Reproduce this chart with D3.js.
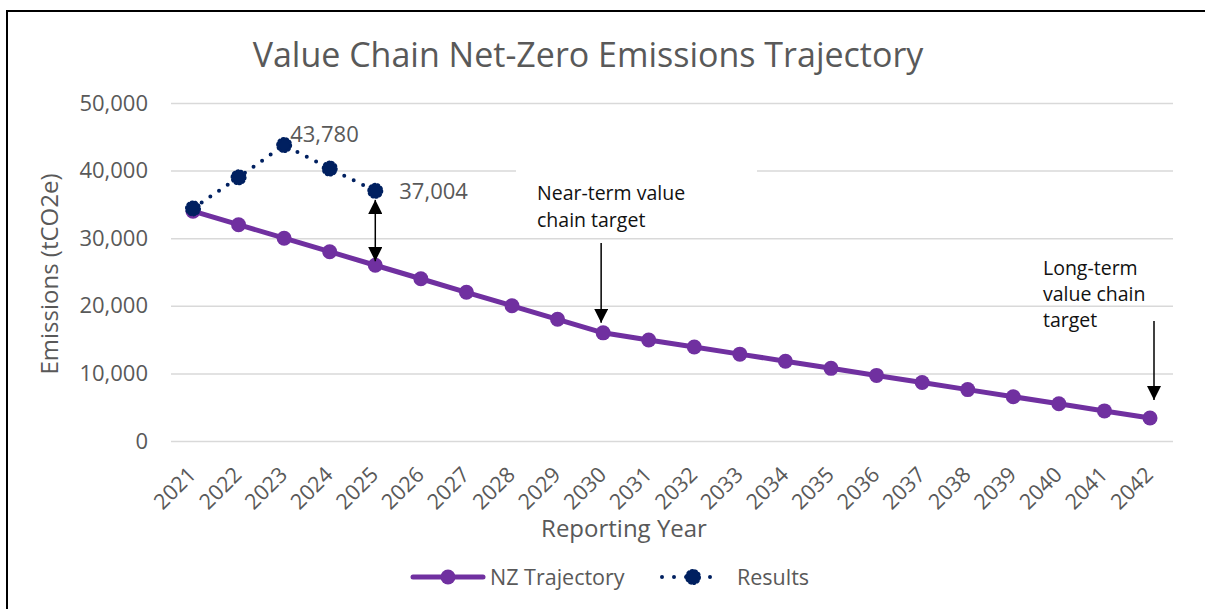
<!DOCTYPE html>
<html><head><meta charset="utf-8">
<script src="https://cdn.jsdelivr.net/npm/d3@7"></script>
<style>
body{margin:0;background:#fff;}
text{font-family:"Open Sans","Liberation Sans",sans-serif;}
</style></head>
<body><svg id="c" width="1205" height="609"></svg>
<script>
const years = ["2021","2022","2023","2024","2025","2026","2027","2028","2029","2030","2031","2032","2033","2034","2035","2036","2037","2038","2039","2040","2041","2042"];
const nzTrajectory = [34000,32000,30000,28000,26000,24000,22000,20000,18000,16000,14950,13900,12850,11800,10750,9700,8650,7600,6550,5500,4450,3400];
const resultYears = ["2021","2022","2023","2024","2025"];
const results = [34400,39000,43780,40300,37004];
const yTicks = [0,10000,20000,30000,40000,50000];

const svg = d3.select("#c");
const W=1205,H=609;
const purple="#7030A0", navy="#002060", grey="#595959";

svg.append("rect").attr("width",W).attr("height",H).attr("fill","#fff");
svg.append("rect").attr("x",7).attr("y",11).attr("width",1400).attr("height",800)
  .attr("fill","none").attr("stroke","#000").attr("stroke-width",2);

const plotL=171, plotR=1173;
const x = d3.scalePoint().domain(years).range([193,1150]);
const y = d3.scaleLinear().domain([0,50000]).range([441,103]);

// title
svg.append("text").attr("x",588).attr("y",67).attr("text-anchor","middle")
  .attr("font-size",34).attr("fill",grey).text("Value Chain Net-Zero Emissions Trajectory");

// y axis with gridlines
const ya = svg.append("g").attr("transform",`translate(${plotL},0)`)
  .call(d3.axisLeft(y).tickValues(yTicks).tickFormat(d3.format(",")).tickSize(-(plotR-plotL)).tickPadding(23));
ya.select(".domain").remove();
ya.selectAll(".tick line").attr("stroke","#d9d9d9").attr("stroke-width",1.5);
ya.selectAll(".tick text").attr("font-size",22).attr("fill",grey).attr("font-family",'"Open Sans",sans-serif');

// x axis labels
const xa = svg.append("g").attr("transform","translate(0,441)")
  .call(d3.axisBottom(x).tickSize(0).tickPadding(0));
xa.select(".domain").remove();
xa.selectAll(".tick text").attr("font-size",21.5).attr("fill",grey)
  .attr("font-family",'"Open Sans",sans-serif')
  .attr("text-anchor","end").attr("dy",0).attr("y",0)
  .attr("transform","translate(4,35) rotate(-45)");

// axis titles
svg.append("text").attr("transform","translate(58,274) rotate(-90)").attr("text-anchor","middle")
  .attr("font-size",24).attr("fill",grey).text("Emissions (tCO2e)");
svg.append("text").attr("x",624).attr("y",537).attr("text-anchor","middle")
  .attr("font-size",24).attr("fill",grey).text("Reporting Year");

// near-term annotation box (white background hides gridline)
svg.append("rect").attr("x",516).attr("y",164).attr("width",241).attr("height",70).attr("fill","#fff");
const ann = svg.append("g").attr("font-size",19.5).attr("fill","#111");
ann.append("text").attr("x",537).attr("y",200).text("Near-term value");
ann.append("text").attr("x",537).attr("y",227).text("chain target");
ann.append("text").attr("x",1043).attr("y",275).text("Long-term");
ann.append("text").attr("x",1043).attr("y",301).text("value chain");
ann.append("text").attr("x",1043).attr("y",327).text("target");

// arrowheads
const defs = svg.append("defs");
defs.append("marker").attr("id","ah").attr("viewBox","0 0 10 10").attr("refX",10).attr("refY",5)
  .attr("markerWidth",9.5).attr("markerHeight",9.5).attr("markerUnits","strokeWidth").attr("orient","auto-start-reverse")
  .append("path").attr("d","M0,0 L10,5 L0,10 Z").attr("fill","#000");

// NZ line
const line = d3.line().x((d,i)=>x(years[i])).y(d=>y(d));
svg.append("path").datum(nzTrajectory).attr("d",line).attr("fill","none")
  .attr("stroke",purple).attr("stroke-width",5).attr("stroke-linejoin","round");
svg.append("g").selectAll("circle").data(nzTrajectory).join("circle")
  .attr("cx",(d,i)=>x(years[i])).attr("cy",d=>y(d)).attr("r",7.5).attr("fill",purple);

// results line
const rline = d3.line().x((d,i)=>x(resultYears[i])).y(d=>y(d));
svg.append("path").datum(results).attr("d",rline).attr("fill","none")
  .attr("stroke",navy).attr("stroke-width",4).attr("stroke-dasharray","0 10.5").attr("stroke-linecap","round");
svg.append("g").selectAll("circle").data(results).join("circle")
  .attr("cx",(d,i)=>x(resultYears[i])).attr("cy",d=>y(d)).attr("r",6.5)
  .attr("fill",navy).attr("stroke",navy).attr("stroke-width",3)
  .attr("stroke-dasharray","1.5 2.5").attr("stroke-linecap","round");

// data labels
const i23 = resultYears.indexOf("2023"), i25 = resultYears.indexOf("2025");
svg.append("text").attr("x",x("2023")+6).attr("y",y(results[i23])-3).attr("font-size",22).attr("fill",grey)
  .text(d3.format(",")(results[i23]));
svg.append("text").attr("x",x("2025")+24).attr("y",y(results[i25])+8).attr("font-size",22).attr("fill",grey)
  .text(d3.format(",")(results[i25]));

// arrows
const xa25 = x("2025");
svg.append("line").attr("x1",xa25).attr("x2",xa25).attr("y1",y(results[i25])+9).attr("y2",y(nzTrajectory[years.indexOf("2025")])-4)
  .attr("stroke","#000").attr("stroke-width",1.5).attr("marker-start","url(#ah)").attr("marker-end","url(#ah)");
const xa30 = x("2030")-2;
svg.append("line").attr("x1",xa30).attr("x2",xa30).attr("y1",243).attr("y2",y(nzTrajectory[years.indexOf("2030")])-10)
  .attr("stroke","#000").attr("stroke-width",1.5).attr("marker-end","url(#ah)");
const xa42 = x("2042")+4;
svg.append("line").attr("x1",xa42).attr("x2",xa42).attr("y1",321).attr("y2",y(nzTrajectory[years.indexOf("2042")])-18)
  .attr("stroke","#000").attr("stroke-width",1.5).attr("marker-end","url(#ah)");

// legend
const lg = svg.append("g");
lg.append("line").attr("x1",413).attr("x2",483).attr("y1",577).attr("y2",577).attr("stroke",purple).attr("stroke-width",5).attr("stroke-linecap","round");
lg.append("circle").attr("cx",448).attr("cy",577).attr("r",7.5).attr("fill",purple);
lg.append("text").attr("x",490).attr("y",585).attr("font-size",21.5).attr("fill",grey).text("NZ Trajectory");
lg.append("line").attr("x1",662).attr("x2",722).attr("y1",577).attr("y2",577).attr("stroke",navy).attr("stroke-width",4)
  .attr("stroke-dasharray","0 12").attr("stroke-linecap","round");
lg.append("circle").attr("cx",693).attr("cy",577).attr("r",6.5).attr("fill",navy).attr("stroke",navy).attr("stroke-width",3)
  .attr("stroke-dasharray","1.5 2.5").attr("stroke-linecap","round");
lg.append("text").attr("x",737).attr("y",585).attr("font-size",21.5).attr("fill",grey).text("Results");
</script></body></html>
